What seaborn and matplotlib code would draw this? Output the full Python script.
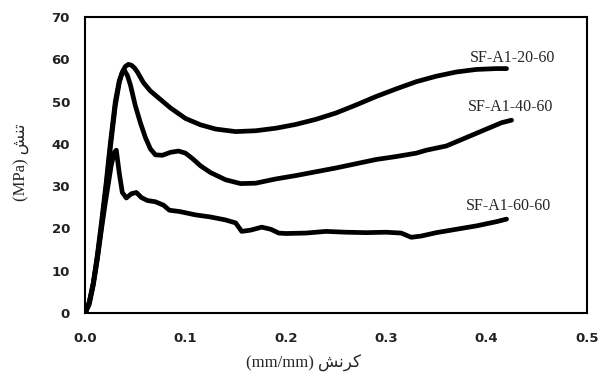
import matplotlib
matplotlib.use("Agg")
import matplotlib.pyplot as plt
import pandas as pd
import seaborn as sns

# strain (mm/mm) / stress (MPa)
x_20 = [0, 0.004, 0.008, 0.012, 0.016, 0.021, 0.025, 0.030, 0.034, 0.037, 0.040, 0.043,
        0.046, 0.049, 0.052, 0.058, 0.065, 0.075, 0.085, 0.1, 0.115, 0.13, 0.15, 0.17,
        0.19, 0.21, 0.23, 0.25, 0.27, 0.29, 0.31, 0.33, 0.35, 0.37, 0.39, 0.41, 0.42]
y_20 = [0, 2.5, 7, 13, 20, 30, 39, 49, 54.5, 57, 58.3, 58.8,
        58.6, 58, 57, 54.5, 52.5, 50.5, 48.5, 46, 44.5, 43.5, 42.9, 43.1,
        43.7, 44.6, 45.8, 47.3, 49.2, 51.2, 53, 54.7, 56, 57, 57.6, 57.8, 57.8]

x_40 = [0, 0.004, 0.008, 0.012, 0.016, 0.021, 0.025, 0.030, 0.034, 0.037, 0.039, 0.042,
        0.045, 0.05, 0.055, 0.06, 0.065, 0.07, 0.077, 0.085, 0.093, 0.1, 0.107, 0.115,
        0.125, 0.14, 0.155, 0.17, 0.19, 0.21, 0.23, 0.25, 0.27, 0.29, 0.31, 0.33, 0.34,
        0.36, 0.38, 0.4, 0.415, 0.425]
y_40 = [0, 2.5, 7, 13.5, 21, 31, 40, 50, 55, 56.9, 57.4, 56.2,
        54, 49, 45, 41.5, 38.8, 37.4, 37.3, 38, 38.3, 37.8, 36.5, 34.8,
        33.2, 31.5, 30.6, 30.7, 31.7, 32.5, 33.4, 34.3, 35.3, 36.3, 37, 37.8, 38.5,
        39.5, 41.5, 43.5, 45, 45.6]

x_60 = [0, 0.004, 0.008, 0.012, 0.016, 0.020, 0.023, 0.026, 0.029, 0.031, 0.034, 0.037,
        0.041, 0.046, 0.051, 0.056, 0.062, 0.07, 0.078, 0.084, 0.094, 0.11, 0.125, 0.14,
        0.15, 0.156, 0.165, 0.176, 0.185, 0.193, 0.2, 0.22, 0.24, 0.26, 0.28, 0.3,
        0.315, 0.325, 0.335, 0.35, 0.37, 0.39, 0.41, 0.42]
y_60 = [0, 2, 6.5, 12.5, 19.5, 26, 30.5, 35, 38, 38.5, 33, 28.5,
        27.2, 28.2, 28.5, 27.3, 26.6, 26.3, 25.5, 24.3, 24, 23.2, 22.7, 22,
        21.3, 19.3, 19.6, 20.3, 19.8, 18.9, 18.8, 18.9, 19.3, 19.1, 19.0, 19.1,
        18.9, 17.9, 18.2, 19.0, 19.8, 20.6, 21.6, 22.2]

curves = ["SF-A1-20-60", "SF-A1-40-60", "SF-A1-60-60"]
label_pos = [(0.383, 60.3), (0.381, 48.7), (0.379, 25.3)]
x_ticks = [0.0, 0.1, 0.2, 0.3, 0.4, 0.5]
y_ticks = [0, 10, 20, 30, 40, 50, 60, 70]

# Persian labels in presentation forms, visual order (matplotlib does no shaping)
ylab = "(MPa) \uFEB6\uFEE8\uFE97"            # تنش
xlab = "(mm/mm) \uFEB6\uFEE7\uFEAE\uFB90"     # کرنش

sns.set_style("white")
fig, ax = plt.subplots(figsize=(6, 3.78), dpi=100)
fig.subplots_adjust(left=0.142, right=0.978, bottom=0.172, top=0.955)

for xs, ys in [(x_20, y_20), (x_40, y_40), (x_60, y_60)]:
    d = pd.DataFrame({"x": xs, "y": ys})
    sns.lineplot(data=d, x="x", y="y", sort=False, color="black", lw=3.4,
                 solid_capstyle="round", solid_joinstyle="round", ax=ax)

for name, (tx, ty) in zip(curves, label_pos):
    ax.text(tx, ty, name, family="Liberation Serif", fontsize=11.5, va="center")

ax.set_xlim(0, 0.5)
ax.set_ylim(0, 70)
ax.set_xticks(x_ticks)
ax.set_yticks(y_ticks)
ax.set_xticklabels([f"{t:.1f}" for t in x_ticks], fontweight="bold", fontsize=9.5)
ax.set_yticklabels([str(t) for t in y_ticks], fontweight="bold", fontsize=9.5)
ax.tick_params(axis="x", direction="in", length=5, width=1.2, pad=14, colors="#222222")
ax.tick_params(axis="y", direction="out", length=5, width=1.2, pad=6, colors="#222222")
for s in ax.spines.values():
    s.set_color("black")
    s.set_linewidth(1.5)

ax.set_xlabel(xlab, family=["Liberation Serif", "DejaVu Sans"], fontsize=12)
ax.set_ylabel(ylab, family=["Liberation Serif", "DejaVu Sans"], fontsize=12)
ax.xaxis.set_label_coords(0.435, -0.14)
ax.yaxis.set_label_coords(-0.11, 0.51)

plt.savefig("out.png", dpi=100)
